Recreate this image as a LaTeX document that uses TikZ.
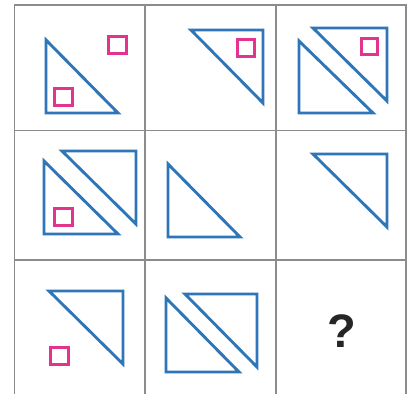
\documentclass[tikz,border=0pt]{standalone}
\usepackage{fontspec}
\setmainfont{Liberation Sans}
\definecolor{triblue}{HTML}{2F76B8}
\definecolor{sqpink}{HTML}{E2348F}
\definecolor{gridgray}{HTML}{8C8C8C}
\tikzset{
  tri/.style={draw=triblue, line width=2.9pt, line join=miter},
  sq/.style={draw=sqpink, line width=3pt},
  gridline/.style={draw=gridgray, line width=1.3pt}
}
\begin{document}
\begin{tikzpicture}[x=1pt,y=-1pt]
\useasboundingbox (0,0) rectangle (414,394);
\fill[white] (0,0) rectangle (414,394);
% grid
\draw[gridline] (14.5,394) -- (14.5,5) -- (406,5) -- (406,394);
\draw[gridline] (145,5) -- (145,394);
\draw[gridline] (276,5) -- (276,394);
\draw[gridline] (14.5,130.5) -- (406,130.5);
\draw[gridline] (14.5,260) -- (406,260);
% cell 1
\draw[tri] (46,40) -- (46,113) -- (118,113) -- cycle;
\draw[sq] (54,88) rectangle (72,105);
\draw[sq] (108,36) rectangle (126,53);
% cell 2
\draw[tri] (191,30) -- (263,30) -- (263,103) -- cycle;
\draw[sq] (237,39) rectangle (254,56);
% cell 3
\draw[tri] (313,28) -- (387,28) -- (387,101) -- cycle;
\draw[tri] (299,41) -- (299,113) -- (373,113) -- cycle;
\draw[sq] (361,38) rectangle (377,54);
% cell 4
\draw[tri] (62,151) -- (136,151) -- (136,224) -- cycle;
\draw[tri] (44,161) -- (44,234) -- (118,234) -- cycle;
\draw[sq] (54,208) rectangle (72,225);
% cell 5
\draw[tri] (168,164) -- (168,237) -- (240,237) -- cycle;
% cell 6
\draw[tri] (313,154) -- (387,154) -- (387,227) -- cycle;
% cell 7
\draw[tri] (49,291) -- (123,291) -- (123,364) -- cycle;
\draw[sq] (50,347) rectangle (68,364);
% cell 8
\draw[tri] (185,294) -- (257,294) -- (257,367) -- cycle;
\draw[tri] (166,298) -- (166,372) -- (239,372) -- cycle;
% cell 9
\node[font=\fontsize{47}{47}\selectfont\bfseries, text=black!85] (q) at (342,331) {?};
\end{tikzpicture}
\end{document}
